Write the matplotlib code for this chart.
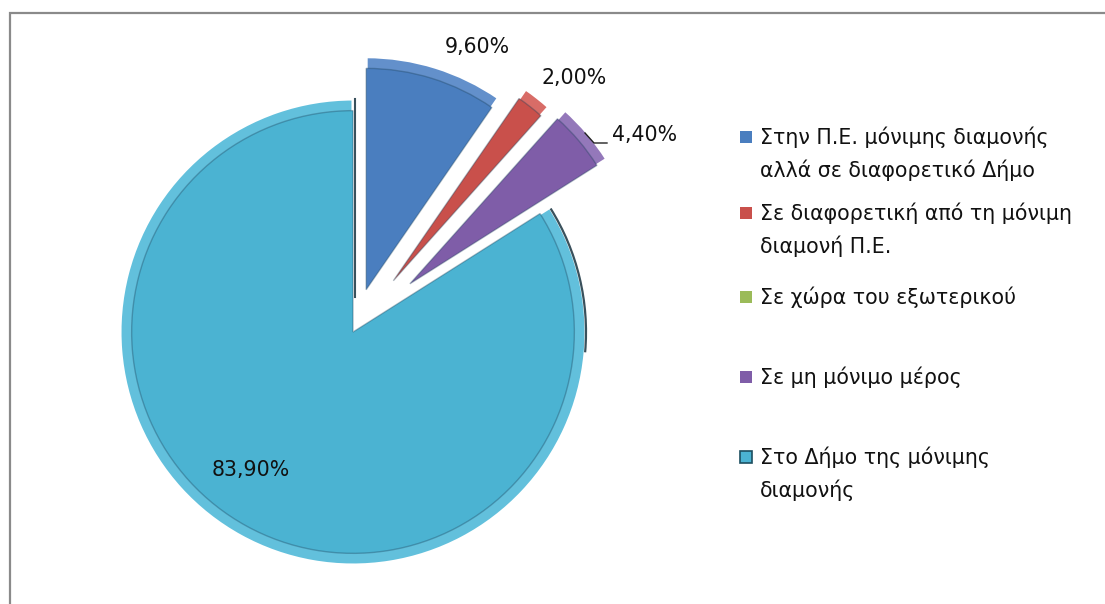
import matplotlib
matplotlib.use("Agg")
import matplotlib.pyplot as plt
from matplotlib.patches import Rectangle, Arc
from matplotlib.lines import Line2D

# ---- data ----
categories = [
    "Στην Π.Ε. μόνιμης διαμονής\nαλλά σε διαφορετικό Δήμο",
    "Σε διαφορετική από τη μόνιμη\nδιαμονή Π.Ε.",
    "Σε χώρα του εξωτερικού",
    "Σε μη μόνιμο μέρος",
    "Στο Δήμο της μόνιμης\nδιαμονής",
]
values = [9.6, 2.0, 0.0, 4.4, 83.9]
show_label = [True, True, False, True, True]
colors = ["#4A7EBF", "#C9504B", "#9BBB59", "#7F5DA8", "#4BB3D2"]
light = ["#6390cb", "#d86c67", "#b0cc7a", "#9478ba", "#62c0dc"]
explode = [0.19, 0.28, 0.28, 0.32, 0.0]

W, H = 1105, 604
FONT = ["DejaVu Sans"]
plt.rcParams["font.family"] = FONT
FS = 14.8

fig = plt.figure(figsize=(W / 100, H / 100), dpi=100)
fig.patch.set_facecolor("white")

def fx(x):
    return x / W

def fy(y):
    return 1 - y / H

# frame (chart area border)
fig.patches.append(Rectangle((fx(10), fy(H + 20)), fx(W + 20 - 10), fy(13) - fy(H + 20),
                             transform=fig.transFigure, fill=False,
                             edgecolor="#8a8a8a", linewidth=1.6))

# pie axes: 1 data unit = R pixels
cx, cy, R = 353, 332, 233
ax = fig.add_axes([0, 0, 1, 1])
common = dict(explode=explode, startangle=90, counterclock=False)
layers = [
    ax.pie(values, colors=light, radius=1.0,
           wedgeprops=dict(edgecolor="white", linewidth=2.2), **common)[0],
    ax.pie(values, colors=colors, radius=0.95,
           wedgeprops=dict(linewidth=0.0), **common)[0],
    ax.pie(values, colors=["none"] * 5, radius=0.95,
           wedgeprops=dict(edgecolor=(0.1, 0.25, 0.35, 0.35), linewidth=1.0, fill=False),
           **common)[0],
]
for wedges in layers:
    for w, v in zip(wedges, values):
        if v == 0:
            w.set_visible(False)
# 3D shadow accents on the large slice
ax.add_patch(Arc((0, 0), 2.0, 2.0, theta1=-5, theta2=32, color="#17323f",
                 linewidth=1.6, alpha=0.85))
ax.add_line(Line2D([0.01, 0.01], [0.15, 1.0], color="#17323f", linewidth=1.5, alpha=0.85))
ax.set_xlim(-cx / R, (W - cx) / R)
ax.set_ylim(-(H - cy) / R, cy / R)
ax.set_aspect("equal")
ax.axis("off")

# data labels
def fmt(v):
    return f"{v:.2f}".replace(".", ",") + "%"

label_pos = [(477, 47), (574, 78), None, (645, 135), (251, 470)]
for v, show, pos in zip(values, show_label, label_pos):
    if show and pos is not None:
        fig.text(fx(pos[0]), fy(pos[1]), fmt(v), ha="center", va="center",
                 fontsize=FS, color="#111111")

# leader line for the small slice
fig.lines.append(Line2D([fx(585), fx(594), fx(607)], [fy(133), fy(143), fy(143)],
                        transform=fig.transFigure, color="#222222", linewidth=1.0))

# legend (manual layout)
legend_y = [137, 213, 297, 377, 457]
line_gap = 33
for k, (cat, col, y) in enumerate(zip(categories, colors, legend_y)):
    ec = "#1d4f60" if k == 4 else "none"
    fig.patches.append(Rectangle((fx(740), fy(y + 6)), fx(12), fy(y - 6) - fy(y + 6),
                                 transform=fig.transFigure, facecolor=col,
                                 edgecolor=ec, linewidth=1.2))
    for i, line in enumerate(cat.split("\n")):
        fig.text(fx(760), fy(y + i * line_gap), line, ha="left", va="center",
                 fontsize=FS, color="#111111")

fig.savefig("out.png", dpi=100, facecolor="white")
